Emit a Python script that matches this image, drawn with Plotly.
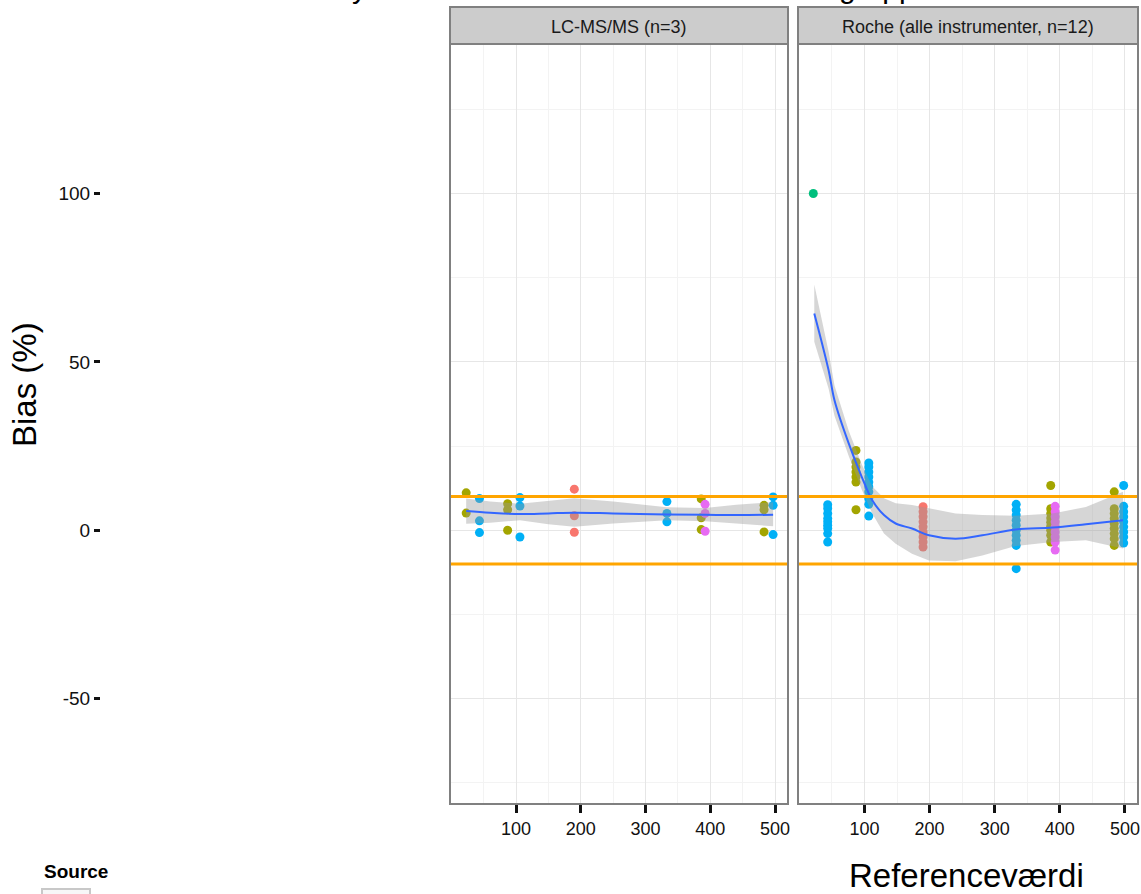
import plotly.graph_objects as go

W, H = 1141, 894

# ---------------- data ----------------
panel_titles = ["LC-MS/MS (n=3)", "Roche (alle instrumenter, n=12)"]
source_colors = {"red": "#F8766D", "olive": "#A3A500", "green": "#00BF7D",
                 "blue": "#00B0F6", "magenta": "#E76BF3"}

# Panel 1 : LC-MS/MS
p1_red_x = [190, 190, 190]
p1_red_y = [12.2, 4.3, -0.6]
p1_olive_x = [23, 23, 87, 87, 87, 386, 386, 386, 483, 483, 483]
p1_olive_y = [11.1, 5.1, 7.9, 6.1, 0.0, 9.3, 3.7, 0.2, 7.4, 6.1, -0.5]
p1_blue_x = [43.5, 43.5, 43.5, 106, 106, 106, 333, 333, 333, 497, 497, 497]
p1_blue_y = [9.4, 2.8, -0.7, 9.7, 7.2, -2.0, 8.5, 5.0, 2.5, 9.9, 7.4, -1.3]
p1_magenta_x = [392, 392, 392]
p1_magenta_y = [7.7, 5.0, -0.3]

p1_smooth_x = [23, 60, 106, 150, 190, 250, 333, 392, 440, 497]
p1_smooth_y = [5.7, 5.2, 4.8, 5.0, 5.2, 5.0, 4.7, 4.6, 4.5, 4.6]
p1_upper = [9.4, 8.5, 7.9, 8.8, 9.5, 8.5, 6.8, 6.6, 7.6, 8.3]
p1_lower = [1.9, 2.2, 3.0, 1.8, 1.0, 2.0, 3.0, 2.7, 2.0, 1.2]

# Panel 2 : Roche
p2_green_x = [21.5]
p2_green_y = [100]
p2_blue_x = [43.6] * 9 + [106.7] * 10 + [333] * 10 + [498] * 9
p2_blue_y = [7.6, 6.5, 5.0, 3.5, 2.5, 1.5, 0.5, -1.0, -3.5,
             20.0, 18.8, 17.3, 15.8, 14.3, 12.9, 11.4, 9.4, 7.7, 4.2,
             7.7, 6.0, 4.5, 3.0, 1.5, 0.0, -1.5, -3.0, -4.5, -11.4,
             13.3, 7.1, 5.5, 4.0, 2.5, 1.0, -0.5, -2.0, -3.8]
p2_olive_x = [87] * 7 + [386] * 9 + [483.5] * 9
p2_olive_y = [23.7, 20.3, 18.8, 17.3, 15.8, 14.3, 6.1,
              13.3, 6.4, 5.0, 3.6, 2.4, 1.2, 0.0, -1.5, -3.5,
              11.4, 6.4, 5.0, 3.5, 2.0, 0.5, -1.0, -2.5, -4.5]
p2_red_x = [190] * 9
p2_red_y = [7.0, 5.5, 4.0, 2.5, 1.0, -0.5, -2.0, -3.5, -5.0]
p2_magenta_x = [392.8] * 9
p2_magenta_y = [7.1, 5.5, 4.0, 2.5, 1.0, -0.5, -2.0, -3.5, -5.9]

p2_smooth_x = [23, 45, 54, 76, 96, 112, 130, 148, 173, 199, 240, 281, 332, 389, 440, 497]
p2_smooth_y = [64.4, 47.5, 38.6, 25.7, 15.8, 8.9, 4.5, 2.0, 0.5, -1.5, -2.5, -1.5, 0.2, 0.8, 1.8, 3.0]
p2_upper = [73, 53, 43, 29.5, 19.5, 13, 9.5, 8, 7.5, 6.5, 5.0, 4.5, 4.3, 5.0, 6.9, 11.4]
p2_lower = [56, 42, 34, 22, 12, 5, -1, -4, -7.0, -9.0, -9.2, -7.5, -4.7, -3.5, -3.0, -5.4]

limits = [10, -10]
y_tickvals = [-50, 0, 50, 100]
y_ticktext = ["-50", "0", "50", "100"]
x_tickvals = [100, 200, 300, 400, 500]
x_ticktext = ["100", "200", "300", "400", "500"]

# ---------------- layout geometry ----------------
def px_x(p):
    return p / W

def px_y(p):
    return (H - p) / H

P1 = (450, 788)
P2 = (798, 1138)
PT, PB = 44, 804
STRIP_TOP = 7

FONT = "Liberation Sans, Arial, sans-serif"

fig = go.Figure()

def add_points(xs, ys, color, xa, ya):
    fig.add_trace(go.Scatter(x=xs, y=ys, mode="markers", xaxis=xa, yaxis=ya,
                             marker=dict(color=color, size=9, line=dict(width=0)),
                             showlegend=False, hoverinfo="skip"))

def add_smooth(xs, ys, up, lo, xa, ya):
    fig.add_trace(go.Scatter(x=xs + xs[::-1], y=up + lo[::-1], mode="lines",
                             fill="toself", fillcolor="rgba(153,153,153,0.4)",
                             line=dict(width=0), xaxis=xa, yaxis=ya,
                             showlegend=False, hoverinfo="skip"))
    fig.add_trace(go.Scatter(x=xs, y=ys, mode="lines", xaxis=xa, yaxis=ya,
                             line=dict(color="#3366FF", width=2, shape="spline"),
                             showlegend=False, hoverinfo="skip"))

# panel 1
add_points(p1_red_x, p1_red_y, source_colors["red"], "x", "y")
add_points(p1_olive_x, p1_olive_y, source_colors["olive"], "x", "y")
add_points(p1_blue_x, p1_blue_y, source_colors["blue"], "x", "y")
add_points(p1_magenta_x, p1_magenta_y, source_colors["magenta"], "x", "y")
add_smooth(p1_smooth_x, p1_smooth_y, p1_upper, p1_lower, "x", "y")

# panel 2
add_points(p2_red_x, p2_red_y, source_colors["red"], "x2", "y2")
add_points(p2_olive_x, p2_olive_y, source_colors["olive"], "x2", "y2")
add_points(p2_green_x, p2_green_y, source_colors["green"], "x2", "y2")
add_points(p2_blue_x, p2_blue_y, source_colors["blue"], "x2", "y2")
add_points(p2_magenta_x, p2_magenta_y, source_colors["magenta"], "x2", "y2")
add_smooth(p2_smooth_x, p2_smooth_y, p2_upper, p2_lower, "x2", "y2")

XR = [-2, 520]
YR = [-81.3, 144.4]
ydom = [px_y(PB), px_y(PT)]

xcommon = dict(range=XR, showgrid=True, gridcolor="#e6e6e6", gridwidth=1,
               minor=dict(dtick=100, tick0=50, showgrid=True, gridcolor="#f3f3f3", gridwidth=1),
               tickvals=x_tickvals, ticktext=x_ticktext, ticks="outside", ticklen=8,
               tickwidth=2.5, tickcolor="#111111", zeroline=False, showline=False,
               tickfont=dict(family=FONT, size=18, color="#111111"), automargin=False)
ycommon = dict(range=YR, domain=ydom, showgrid=True, gridcolor="#e6e6e6", gridwidth=1,
               minor=dict(dtick=50, tick0=25, showgrid=True, gridcolor="#f3f3f3", gridwidth=1),
               tickvals=y_tickvals, ticktext=y_ticktext, zeroline=False, showline=False,
               automargin=False)

fig.update_layout(
    width=W, height=H, autosize=False,
    margin=dict(l=0, r=0, t=0, b=0, pad=0),
    paper_bgcolor="white", plot_bgcolor="white",
    xaxis=dict(domain=[px_x(P1[0]), px_x(P1[1])], anchor="y", **xcommon),
    xaxis2=dict(domain=[px_x(P2[0]), px_x(P2[1])], anchor="y2", **xcommon),
    yaxis=dict(anchor="free", position=px_x(100), ticks="outside", ticklen=6,
               tickwidth=2.5, tickcolor="#111111",
               tickfont=dict(family=FONT, size=19, color="#111111"), **ycommon),
    yaxis2=dict(anchor="x2", matches="y", showticklabels=False, ticks="", **ycommon),
)

shapes = []
# orange limit lines
for xa, ya in [("x", "y"), ("x2", "y2")]:
    for lim in limits:
        shapes.append(dict(type="line", xref=f"{xa} domain", yref=ya, x0=0, x1=1,
                           y0=lim, y1=lim, line=dict(color="#FFA500", width=3), layer="above"))
# panel borders and strips
for (a, b) in [P1, P2]:
    shapes.append(dict(type="rect", xref="paper", yref="paper",
                       x0=px_x(a), x1=px_x(b), y0=px_y(PB), y1=px_y(PT),
                       line=dict(color="#808080", width=2), fillcolor="rgba(0,0,0,0)", layer="above"))
    shapes.append(dict(type="rect", xref="paper", yref="paper",
                       x0=px_x(a), x1=px_x(b), y0=px_y(PT), y1=px_y(STRIP_TOP),
                       line=dict(color="#808080", width=2), fillcolor="#cccccc", layer="above"))
# partial legend key
shapes.append(dict(type="rect", xref="paper", yref="paper",
                   x0=px_x(42), x1=px_x(90), y0=px_y(900), y1=px_y(889),
                   line=dict(color="#c8c8c8", width=2), fillcolor="#f7f7f7"))
fig.update_layout(shapes=shapes)

ann = []
for (a, b), t in zip([P1, P2], panel_titles):
    ann.append(dict(text=t, xref="paper", yref="paper", x=px_x((a + b) / 2),
                    y=px_y((PT + STRIP_TOP) / 2 + 1), xanchor="center", yanchor="middle",
                    showarrow=False, font=dict(family=FONT, size=18, color="#1a1a1a")))
ann.append(dict(text="Bias (%)", xref="paper", yref="paper", x=px_x(25), y=px_y(385),
                textangle=-90, xanchor="center", yanchor="middle", showarrow=False,
                font=dict(family=FONT, size=33, color="#000000")))
ann.append(dict(text="Referenceværdi", xref="paper", yref="paper", x=px_x(966), y=px_y(875),
                xanchor="center", yanchor="middle", showarrow=False,
                font=dict(family=FONT, size=33, color="#000000")))
ann.append(dict(text="<b>Source</b>", xref="paper", yref="paper", x=px_x(42), y=px_y(871),
                xanchor="left", yanchor="middle", showarrow=False,
                font=dict(family=FONT, size=19, color="#000000")))
ann.append(dict(text="Analysis af referenceværdi for instrumentgrupper", xref="paper", yref="paper",
                x=px_x(617), y=px_y(6), xanchor="center", yanchor="bottom", showarrow=False,
                font=dict(family=FONT, size=30, color="#000000")))
fig.update_layout(annotations=ann)

fig.write_html("out.html")
